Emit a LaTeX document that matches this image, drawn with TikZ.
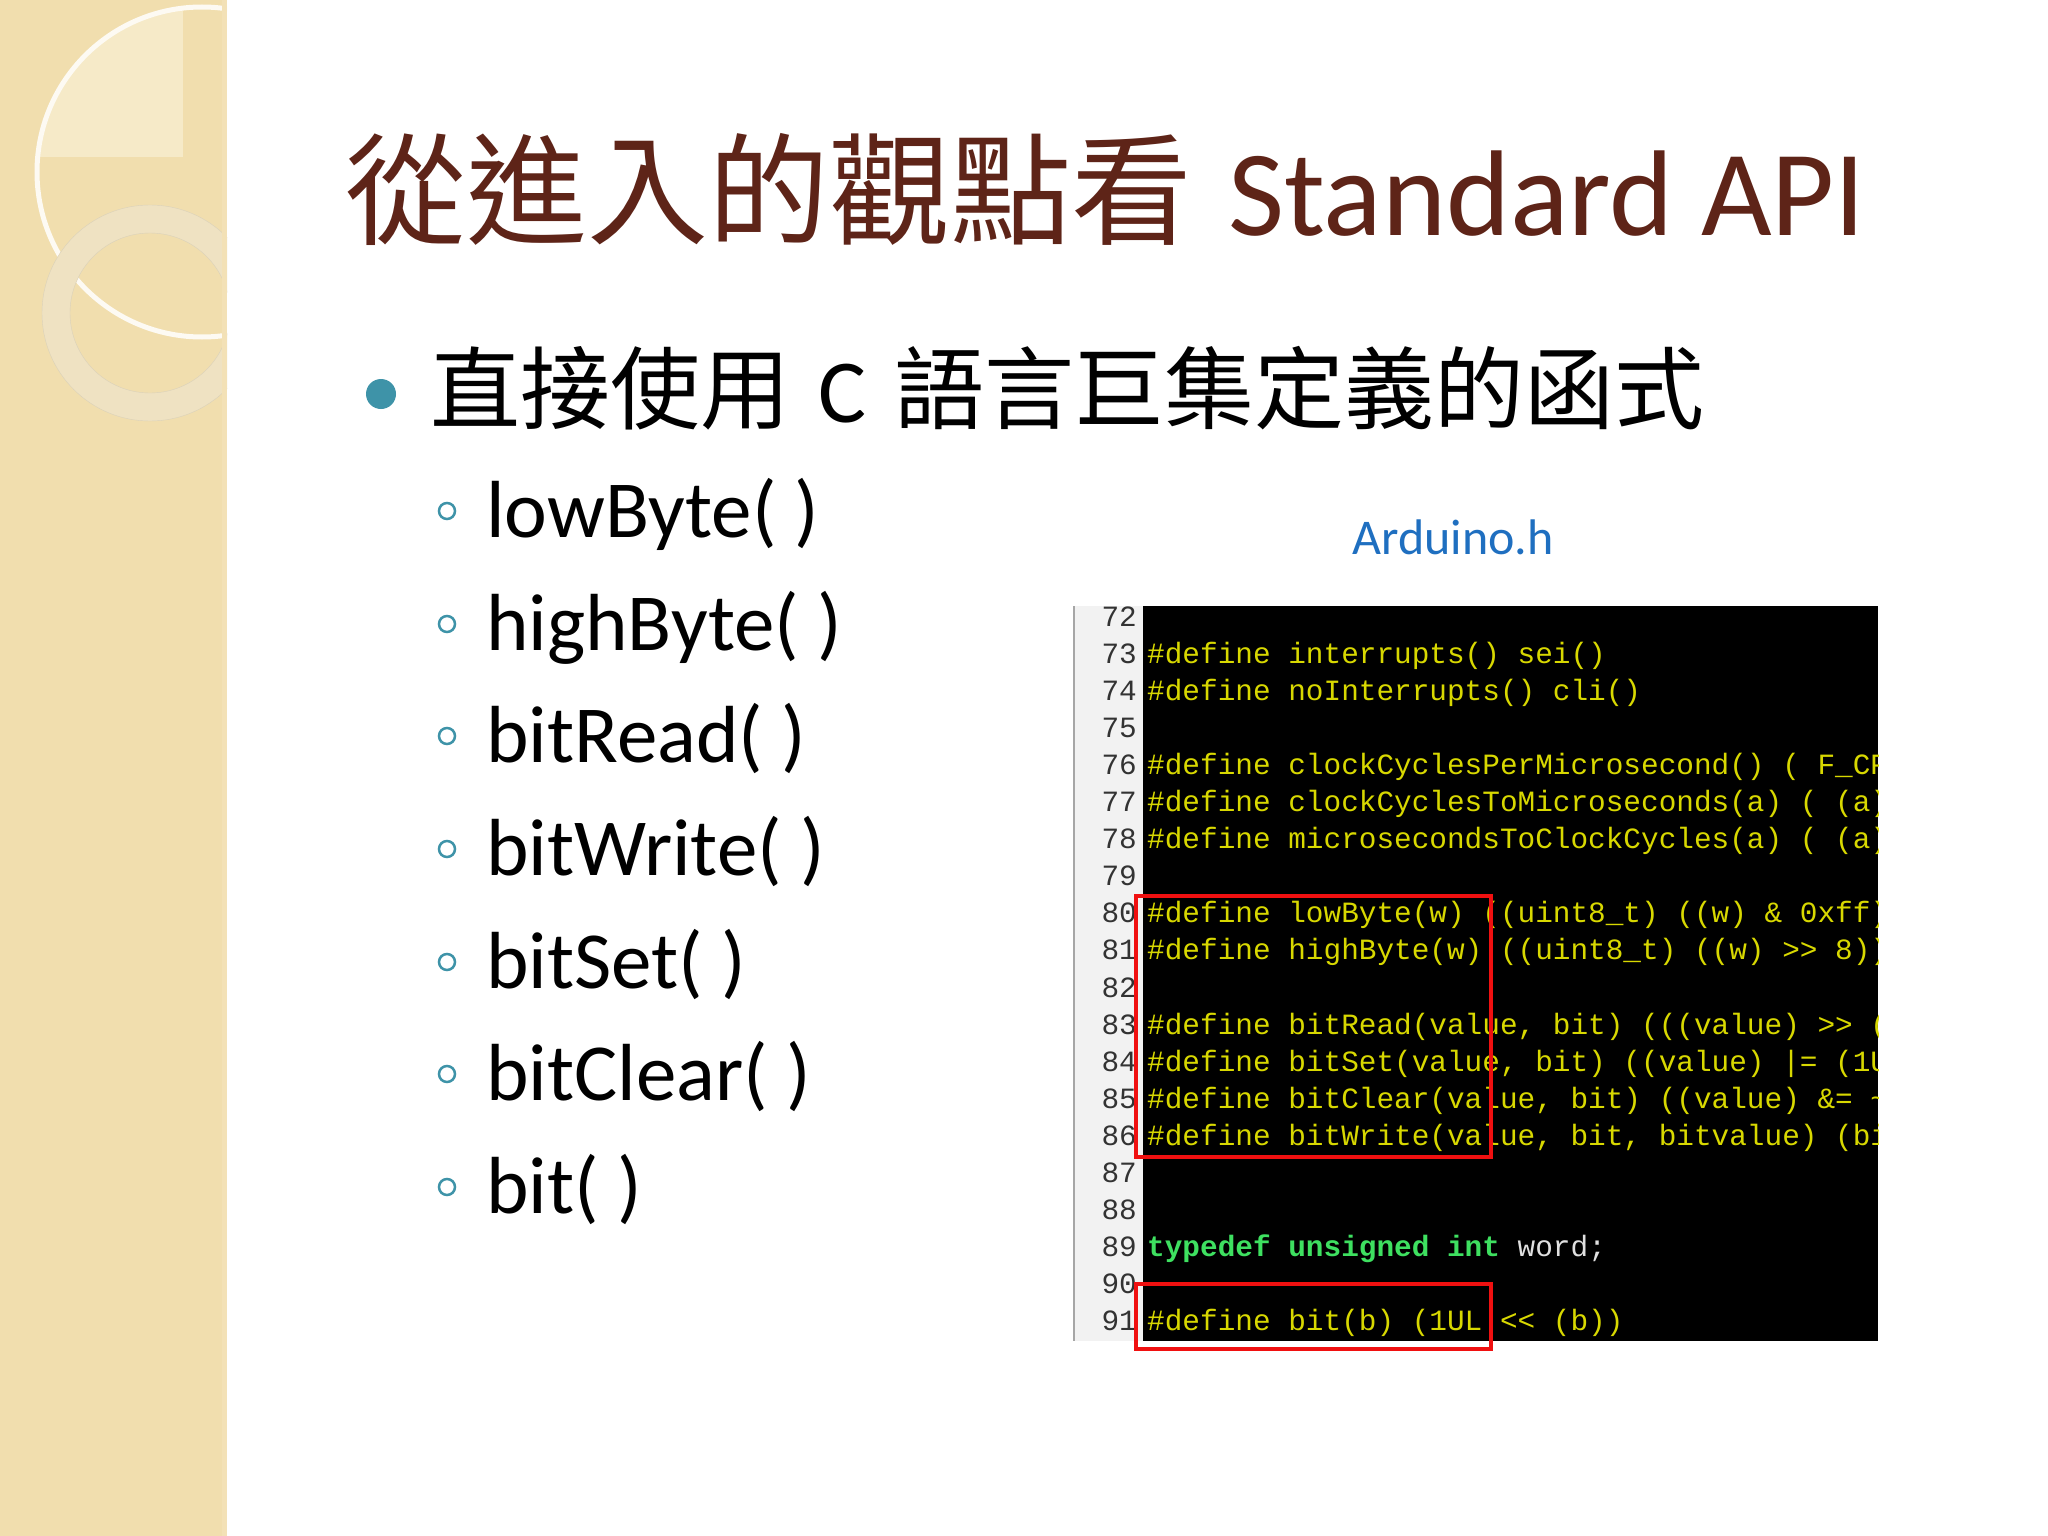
\documentclass[tikz,border=0pt]{standalone}
\usepackage{fontspec}
\setmainfont{Carlito}
\newfontfamily\cjk{Noto Sans CJK TC}
\newfontfamily\codefont{Liberation Mono}
\definecolor{strip}{HTML}{F1DEAE}
\definecolor{stripl}{HTML}{F6EAC8}
\definecolor{ring}{HTML}{EFE2C2}
\definecolor{titlec}{HTML}{5E2418}
\definecolor{teal}{HTML}{3E93A8}
\definecolor{ardb}{HTML}{1F6FC0}
\definecolor{cy}{HTML}{D8D800}
\definecolor{cg}{HTML}{3EE060}
\definecolor{cw}{HTML}{E0E0E0}
\definecolor{lnum}{HTML}{333333}
\definecolor{redbox}{HTML}{F01010}
\begin{document}
\begin{tikzpicture}[x=1pt,y=-1pt,
  txt/.style={inner sep=0pt,anchor=base west},
  item/.style={txt,font=\fontsize{81}{81}\selectfont},
  subdot/.style={circle,draw=teal,line width=2.5pt,minimum size=16pt,inner sep=0pt},
  code/.style={inner sep=0pt,anchor=base west,font=\codefont\fontsize{29.4}{30}\selectfont,text=cy},
  num/.style={inner sep=0pt,anchor=base east,font=\codefont\fontsize{29.4}{30}\selectfont,text=lnum},
  hl/.style={draw=redbox,line width=4pt}]
\useasboundingbox (0,0) rectangle (2048,1536);
\fill[white] (0,0) rectangle (2048,1536);
% left strip
\fill[strip] (0,0) rectangle (227,1536);
\begin{scope}
\clip (0,0) rectangle (227,1536);
\begin{scope}
\clip (202,172) circle (165);
\fill[stripl] (0,0) rectangle (183,157);
\end{scope}
\draw[white!85!strip,line width=5pt] (202,172) circle (165);
\fill[ring,even odd rule,draw=strip!80!black!60] (150,313) circle (108) (150,313) circle (80);
\fill[strip!90!white] (222,0) rectangle (227,1536);
\end{scope}
% title
\node[txt,text=titlec,font=\fontsize{121}{121}\selectfont] (title) at (345,235) {{\cjk 從進入的觀點看}\hspace*{36pt}{\fontsize{122}{122}\selectfont Standard API}};
% bullet
\node[circle,fill=teal,minimum size=30pt,inner sep=0pt] (b1) at (381,394) {};
\node[txt,font=\fontsize{90}{90}\selectfont] (t1) at (430,422) {{\cjk 直接使用}\hspace*{28pt}C\hspace*{28pt}{\cjk 語言巨集定義的函式}};
% sub items
\foreach \n/\y/\t in {1/537/lowByte( ),2/650/highByte( ),3/762/bitRead( ),4/875/bitWrite( ),5/988/bitSet( ),6/1100/bitClear( ),7/1213/bit( )}{
  \node[subdot] (d\n) at (447,\y-26) {};
  \node[item] (s\n) at (486,\y) {\t};
}
\node[text=ardb,font=\fontsize{50}{50}\selectfont,inner sep=0pt] (ard) at (1453,537) {Arduino.h};
% code panel
\fill[white!95!black] (1073,606) rectangle (1143,1341);
\draw[black!35,line width=1.5pt] (1074,606) -- (1074,1341);
\fill[black] (1143,606) rectangle (1878,1341);
\foreach \i in {0,...,19}{
  \pgfmathtruncatemacro\ln{72+\i}
  \node[num] at (1137,{626+37.1*\i}) {\ln};
}
\begin{scope}
\clip (1143,606) rectangle (1878,1341);
\def\Y#1{{626+37.1*#1}}
\node[code] (c73) at (1147,\Y{1}) {\#define interrupts() sei()};
\node[code] (c74) at (1147,\Y{2}) {\#define noInterrupts() cli()};
\node[code] (c76) at (1147,\Y{4}) {\#define clockCyclesPerMicrosecond() ( F\_CPU / 1000000L )};
\node[code] (c77) at (1147,\Y{5}) {\#define clockCyclesToMicroseconds(a) ( (a) / clockCyclesPerMicrosecond() )};
\node[code] (c78) at (1147,\Y{6}) {\#define microsecondsToClockCycles(a) ( (a) * clockCyclesPerMicrosecond() )};
\node[code] (c80) at (1147,\Y{8}) {\#define lowByte(w) ((uint8\_t) ((w) \& 0xff))};
\node[code] (c81) at (1147,\Y{9}) {\#define highByte(w) ((uint8\_t) ((w) >> 8))};
\node[code] (c83) at (1147,\Y{11}) {\#define bitRead(value, bit) (((value) >> (bit)) \& 0x01)};
\node[code] (c84) at (1147,\Y{12}) {\#define bitSet(value, bit) ((value) |= (1UL << (bit)))};
\node[code] (c85) at (1147,\Y{13}) {\#define bitClear(value, bit) ((value) \&= \textasciitilde(1UL << (bit)))};
\node[code] (c86) at (1147,\Y{14}) {\#define bitWrite(value, bit, bitvalue) (bitvalue ? bitSet(value, bit) : bitClear(value, bit))};
\node[code,text=cg,font=\codefont\bfseries\fontsize{29.4}{30}\selectfont] (c89) at (1147,\Y{17}) {typedef unsigned int \textcolor{cw}{\mdseries word;}};
\node[code] (c91) at (1147,\Y{19}) {\#define bit(b) (1UL << (b))};
\end{scope}
\draw[hl] (1136,896) rectangle (1491,1157);
\draw[hl] (1136,1284) rectangle (1491,1349);
\end{tikzpicture}
\end{document}
